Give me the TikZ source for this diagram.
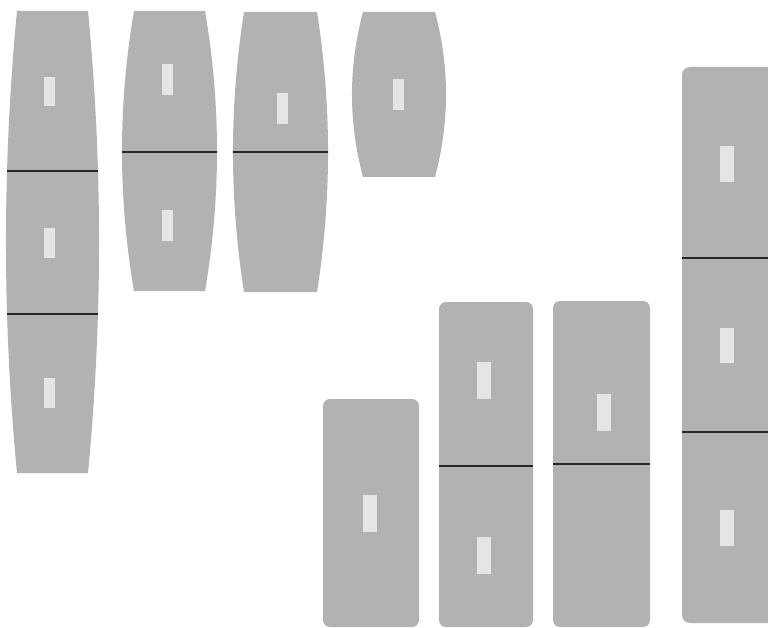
\documentclass[tikz,border=0pt]{standalone}
\begin{document}
\begin{tikzpicture}[x=1pt,y=-1pt,
  body/.style={fill=black!30},
  win/.style={fill=black!10},
  divider/.style={draw=black!85,line width=1.5pt}]
\useasboundingbox (0,0) rectangle (768,628);
\clip (0,0) rectangle (768,628);
% barrel: #1 xl, #2 xr, #3 yt, #4 yb, #5 control offset
\newcommand\barrelpath[5]{(#1,#3) -- (#2,#3) .. controls ({#2+#5},{#3+(#4-#3)/3}) and ({#2+#5},{#3+2*(#4-#3)/3}) .. (#2,#4) -- (#1,#4) .. controls ({#1-#5},{#3+2*(#4-#3)/3}) and ({#1-#5},{#3+(#4-#3)/3}) .. cycle}
% ---- barrel 1
\fill[body] \barrelpath{17}{88}{11}{473}{14.7};
\begin{scope}
  \clip \barrelpath{17}{88}{11}{473}{14.7};
  \draw[divider] (0,171) -- (110,171);
  \draw[divider] (0,314) -- (110,314);
\end{scope}
\fill[win] (44,77) rectangle (55,106);
\fill[win] (44,228) rectangle (55,258);
\fill[win] (44,378) rectangle (55,408);
% ---- barrel 2
\fill[body] \barrelpath{134}{205}{11}{291}{16};
\begin{scope}
  \clip \barrelpath{134}{205}{11}{291}{16};
  \draw[divider] (110,152) -- (230,152);
\end{scope}
\fill[win] (162,64) rectangle (173,95);
\fill[win] (162,210) rectangle (173,241);
% ---- barrel 3
\fill[body] \barrelpath{244}{317}{12}{292}{14.7};
\begin{scope}
  \clip \barrelpath{244}{317}{12}{292}{14.7};
  \draw[divider] (225,152) -- (340,152);
\end{scope}
\fill[win] (277,93) rectangle (288,124);
% ---- barrel 4
\fill[body] \barrelpath{363}{435}{12}{177}{14.7};
\fill[win] (393,79) rectangle (404,110);
% ---- rounded boxes
\fill[body,rounded corners=7pt] (323,399) rectangle (419,627);
\fill[win] (363,495) rectangle (377,532);
\fill[body,rounded corners=7pt] (439,302) rectangle (533,627);
\draw[divider] (439,466) -- (533,466);
\fill[win] (477,362) rectangle (491,399);
\fill[win] (477,537) rectangle (491,574);
\fill[body,rounded corners=7pt] (553,301) rectangle (650,627);
\draw[divider] (553,464) -- (650,464);
\fill[win] (597,394) rectangle (611,431);
\fill[body,rounded corners=8pt] (682,67) rectangle (790,623);
\draw[divider] (682,258) -- (768,258);
\draw[divider] (682,432) -- (768,432);
\fill[win] (720,146) rectangle (734,182);
\fill[win] (720,328) rectangle (734,363);
\fill[win] (720,510) rectangle (734,546);
\end{tikzpicture}
\end{document}
